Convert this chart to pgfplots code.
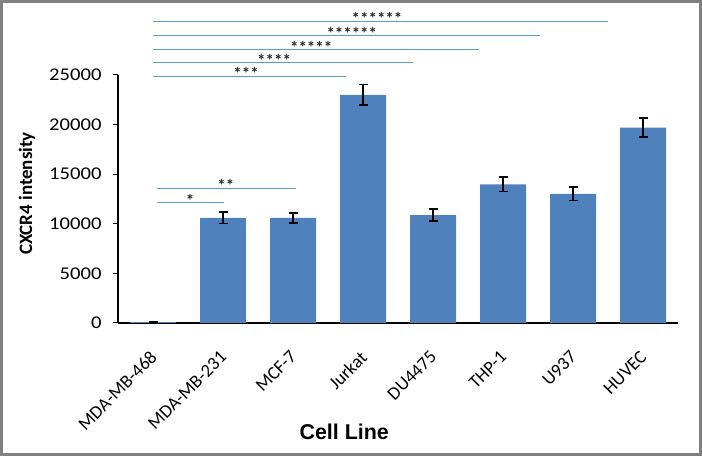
\documentclass[border=0pt]{standalone}
\usepackage{pgfplots}
\pgfplotsset{compat=1.18}
\usepackage{fontspec}
\setmainfont{Carlito}
\newfontfamily\arialfont{Liberation Sans}
\newfontfamily\widefont[FakeStretch=1.15]{Carlito}
\definecolor{barblue}{RGB}{79,129,189}
\definecolor{siglite}{RGB}{91,155,213}
\definecolor{framegray}{RGB}{128,128,128}
\pgfplotstableread{
x y e
0 100 60
1 10600 580
2 10600 500
3 23000 1050
4 10880 600
5 13980 730
6 13020 680
7 19700 980
}\celldata
\begin{document}
\begin{tikzpicture}[x=1bp,y=1bp]
\useasboundingbox (0,0) rectangle (702,456);
\fill[white] (0,0) rectangle (702,456);
\draw[framegray, line width=3bp] (1.5,1.5) rectangle (700.5,454.5);
\begin{axis}[
  at={(118bp,133bp)}, anchor=south west,
  width=560bp, height=248bp, scale only axis,
  xmin=-0.5, xmax=7.5, ymin=0, ymax=25000,
  axis x line*=bottom, axis y line*=left,
  axis line style={-, black, line width=1.2bp},
  clip=false,
  xtick={0,...,7},
  xticklabels={MDA-MB-468,MDA-MB-231,MCF-7,Jurkat,DU4475,THP-1,U937,HUVEC},
  xtick style={draw=none},
  xticklabel style={rotate=45, anchor=north east, font=\fontsize{18.5}{20}\selectfont, inner sep=1bp, xshift=-17bp, yshift=-11.5bp},
  ytick={0,5000,10000,15000,20000,25000},
  ytick style={black, line width=1bp},
  tick align=outside, major tick length=5bp,
  yticklabel style={font=\widefont\fontsize{18}{20}\selectfont, xshift=-8bp},
  scaled y ticks=false,
  /pgf/number format/.cd, set thousands separator={}, assume math mode=true,
  /pgfplots/.cd,
  xlabel={Cell Line},
  xlabel style={at={(axis description cs:0.404,-0.44)}, anchor=center, font=\arialfont\bfseries\fontsize{21.5}{24}\selectfont},
  ylabel={CXCR4 intensity},
  ylabel style={at={(axis description cs:-0.1625,0.522)}, anchor=center, font=\bfseries\fontsize{19}{22}\selectfont},
]
\addplot[ybar, bar width=0.657, bar shift=0pt, fill=barblue, draw=none,
  error bars/.cd, y dir=both, y explicit,
  error bar style={black, line width=1.6bp},
  error mark options={black, line width=1.6bp, mark size=4.5bp, rotate=90}]
  table[x=x, y=y, y error=e] {\celldata};
% significance lines
\addplot[siglite, line width=1bp, no marks] coordinates {(0,30413) (6.5,30413)};
\addplot[siglite, line width=1bp, no marks] coordinates {(0,28932) (5.53,28932)};
\addplot[siglite, line width=1bp, no marks] coordinates {(0,27593) (4.66,27593)};
\addplot[siglite, line width=1bp, no marks] coordinates {(0,26213) (3.71,26213)};
\addplot[siglite, line width=1bp, no marks] coordinates {(0,24874) (2.76,24874)};
\addplot[siglite, line width=1bp, no marks] coordinates {(0.06,13565) (2.04,13565)};
\addplot[siglite, line width=1bp, no marks] coordinates {(0.06,12115) (1.01,12115)};
\tikzset{star/.style={font=\bfseries\fontsize{17}{19}\selectfont, text=black!85, inner sep=0pt, yshift=-2.5bp}}
\node[star] at (axis cs:3.2,30950) {******};
\node[star] at (axis cs:2.84,29400) {******};
\node[star] at (axis cs:2.26,28070) {*****};
\node[star] at (axis cs:1.73,26720) {****};
\node[star] at (axis cs:1.33,25380) {***};
\node[star] at (axis cs:0.53,12560) {*};
\node[star] at (axis cs:1.04,14070) {**};
\end{axis}
\end{tikzpicture}
\end{document}
